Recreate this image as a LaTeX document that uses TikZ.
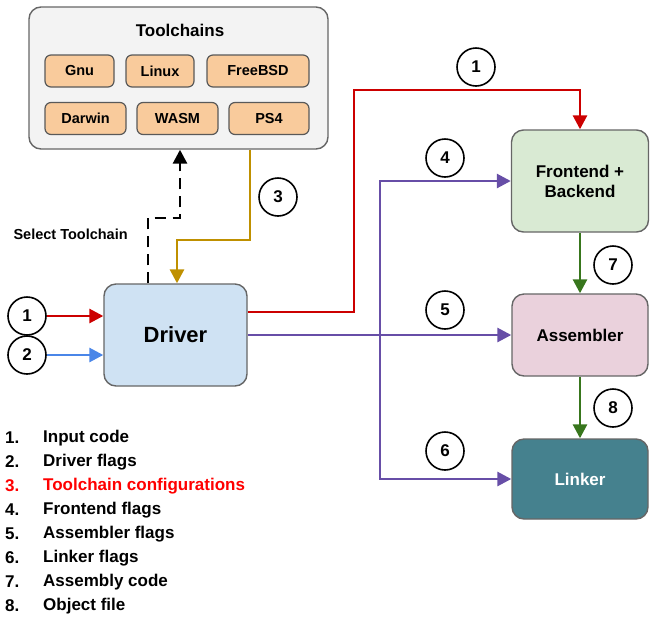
\documentclass[tikz,border=0pt]{standalone}
\usepackage{fontspec}
\setmainfont{Liberation Sans}
\usetikzlibrary{arrows.meta}
\definecolor{tcgray}{HTML}{F3F3F3}
\definecolor{peach}{HTML}{F9CB9C}
\definecolor{drvblue}{HTML}{CFE2F3}
\definecolor{fegreen}{HTML}{D9EAD3}
\definecolor{asmpink}{HTML}{EAD1DC}
\definecolor{lkteal}{HTML}{45818E}
\definecolor{inred}{HTML}{CC0000}
\definecolor{flagblue}{HTML}{4A86E8}
\definecolor{flagpurple}{HTML}{674EA7}
\definecolor{cfggold}{HTML}{BF9000}
\definecolor{outgreen}{HTML}{38761D}
\tikzset{
  box/.style={draw=black!60,line width=1.4pt,rounded corners=12pt,align=center,
    font=\fontsize{17}{20}\selectfont\bfseries},
  chip/.style={draw=black!65,line width=1.2pt,fill=peach,rounded corners=6pt,
    minimum height=32pt,font=\fontsize{14.5}{17}\selectfont\bfseries},
  num/.style={draw,circle,line width=1.6pt,minimum size=38pt,inner sep=0pt,
    font=\fontsize{17}{20}\selectfont\bfseries},
  flow/.style={line width=2.8pt,-{Triangle[length=14pt,width=14pt]}},
}
\begin{document}
\begin{tikzpicture}[x=1pt,y=-1pt]
  \useasboundingbox (0,0) rectangle (655,622);
  \node[box,fill=tcgray,minimum width=299pt,minimum height=142pt] (tc) at (178.5,78) {};
  \node[font=\fontsize{17}{20}\selectfont\bfseries] (tctitle) at (180,30) {Toolchains};
  \node[chip,minimum width=69pt] (gnu) at (79.5,71) {Gnu};
  \node[chip,minimum width=68pt] (linux) at (160,71) {Linux};
  \node[chip,minimum width=102pt] (fbsd) at (258,71) {FreeBSD};
  \node[chip,minimum width=81pt] (darwin) at (85.5,118.5) {Darwin};
  \node[chip,minimum width=81pt] (wasm) at (177.5,118.5) {WASM};
  \node[chip,minimum width=80pt] (ps4) at (269,118.5) {PS4};

  \node[box,fill=drvblue,minimum width=143pt,minimum height=102pt,
    font=\fontsize{22}{26}\selectfont\bfseries] (drv) at (175.5,335) {Driver};
  \node[box,fill=fegreen,minimum width=137pt,minimum height=102pt] (fe) at (580,181) {Frontend +\\Backend};
  \node[box,fill=asmpink,minimum width=136pt,minimum height=82pt] (asm) at (580,335) {Assembler};
  \node[box,fill=lkteal,text=white,minimum width=136pt,minimum height=80pt] (lk) at (580,479) {Linker};

  \node[num] (in1) at (27,316) {1};
  \node[num] (in2) at (27,355) {2};
  \node[num] (t1) at (476,67) {1};
  \node[num] (t3) at (278,197) {3};
  \node[num] (t4) at (445,158) {4};
  \node[num] (t5) at (445,310) {5};
  \node[num] (t6) at (445,451) {6};
  \node[num] (t7) at (613,265) {7};
  \node[num] (t8) at (613,408) {8};
  \node[anchor=west,font=\fontsize{14.5}{17}\selectfont\bfseries] (sel) at (10,234) {Select Toolchain};

  \coordinate (s1) at (148,218);
  \coordinate (s2) at (180,218);
  \coordinate (g1) at (250,240);
  \coordinate (g2) at (177,240);
  \coordinate (ry) at (0,312);
  \coordinate (r1) at (354,90);
  \coordinate (pj) at (380,335);

  \draw[flow,dashed,dash pattern=on 11pt off 7pt] (drv.north -| s1) -- (s1) -| (tc.south -| s2);
  \draw[flow,cfggold] (tc.south -| g1) -- (g1) -| (drv.north -| g2);
  \draw[flow,inred] (in1.east) -- (drv.west |- in1.east);
  \draw[flow,flagblue] (in2.east) -- (drv.west |- in2.east);
  \draw[flow,inred] (drv.east |- ry) -| (r1) -| (fe.north);
  \draw[flow,flagpurple] (drv.east |- asm.west) -- (asm.west);
  \draw[flow,flagpurple] (pj) |- (fe.west);
  \draw[flow,flagpurple] (pj) |- (lk.west);
  \draw[flow,outgreen] (fe.south) -- (asm.north);
  \draw[flow,outgreen] (asm.south) -- (lk.north);

  \foreach \i/\txt/\col in {1/Input code/black,2/Driver flags/black,
      3/Toolchain configurations/red,4/Frontend flags/black,5/Assembler flags/black,
      6/Linker flags/black,7/Assembly code/black,8/Object file/black}{
    \node[anchor=west,text=\col,font=\fontsize{17}{20}\selectfont\bfseries,inner sep=0pt]
      (n\i) at (5,414+24*\i) {\i.};
    \node[anchor=west,text=\col,font=\fontsize{17}{20}\selectfont\bfseries,inner sep=0pt]
      (l\i) at (43,414+24*\i) {\txt};
  }
\end{tikzpicture}
\end{document}
